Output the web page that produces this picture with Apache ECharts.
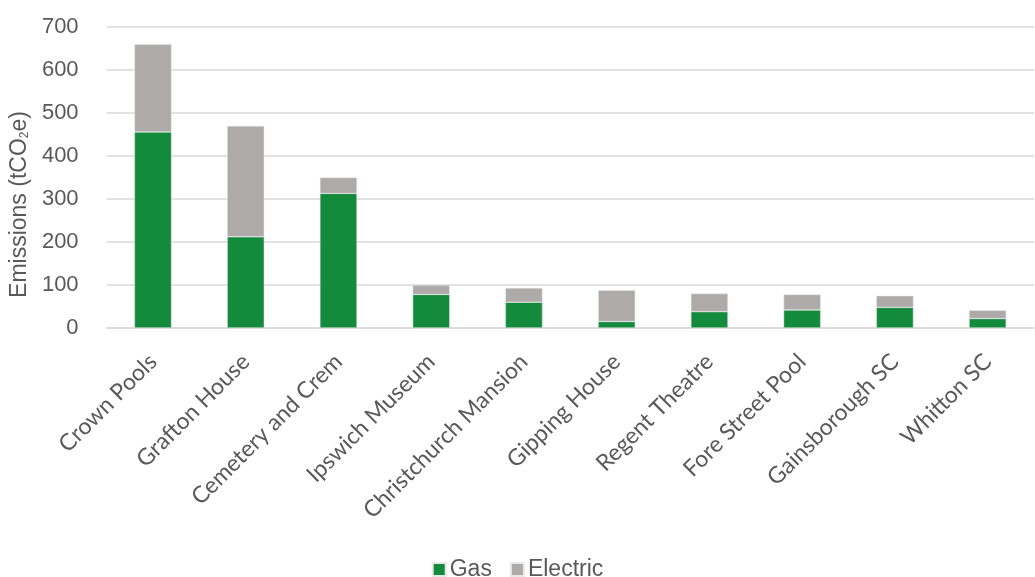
<!DOCTYPE html>
<html>
<head>
<meta charset="utf-8">
<script src="https://cdn.jsdelivr.net/npm/echarts@6/dist/echarts.min.js"></script>
<style>html,body{margin:0;padding:0;background:#fff}#c{width:1035px;height:577px}</style>
</head>
<body>
<div id="c"></div>
<script>
const categories = ["Crown Pools","Grafton House","Cemetery and Crem","Ipswich Museum","Christchurch Mansion","Gipping House","Regent Theatre","Fore Street Pool","Gainsborough SC","Whitton SC"];
const gas = [456, 212, 313, 78, 60, 15, 38, 42, 48, 22];
const electric = [204, 258, 37, 22, 33, 73, 42, 36, 27, 19];
const yTicks = [0, 100, 200, 300, 400, 500, 600, 700];

const chart = echarts.init(document.getElementById('c'));
chart.setOption({
  animation: false,
  grid: {left: 104, right: 1, top: 27, bottom: 249, containLabel: false},
  legend: {
    top: 553, left: 'center',
    itemWidth: 13, itemHeight: 13, itemGap: 18,
    icon: 'rect',
    textStyle: {color: '#595959', fontSize: 23, fontFamily: 'Liberation Sans', padding: [0,0,0,-1]},
    data: ['Gas','Electric']
  },
  xAxis: {
    type: 'category',
    data: categories,
    axisLine: {show: true, lineStyle: {color: '#d9d9d9', width: 1.5}},
    axisTick: {show: false},
    axisLabel: {rotate: 45, color: '#595959', fontSize: 23, fontFamily: 'Lato', margin: 30, interval: 0}
  },
  yAxis: {
    type: 'value',
    min: 0, max: 700, interval: 100,
    name: 'Emissions (tCO{sub|2}e)',
    nameLocation: 'middle',
    nameGap: 72,
    nameTextStyle: {color: '#595959', fontSize: 23, fontFamily: 'Liberation Sans', padding: [0, 54, 0, 0],
      rich: {sub: {fontSize: 12, color: '#595959', fontFamily: 'Liberation Sans', verticalAlign: 'bottom', padding:[9,0,0,0]}}},
    axisLine: {show: false},
    axisTick: {show: false},
    axisLabel: {color: '#595959', fontSize: 22, fontFamily: 'Liberation Sans', margin: 28,
      formatter: v => yTicks.includes(v) ? String(v) : ''},
    splitLine: {lineStyle: {color: '#d9d9d9', width: 1.5}}
  },
  series: [
    {name: 'Gas', type: 'bar', stack: 't', data: gas, barWidth: '40%',
     itemStyle: {color: '#138a3c', borderColor: '#e8e8e8', borderWidth: 0.5}},
    {name: 'Electric', type: 'bar', stack: 't', data: electric, barWidth: '40%',
     itemStyle: {color: '#aeaaaa', borderColor: '#e8e8e8', borderWidth: 0.5}}
  ]
});
</script>
</body>
</html>
